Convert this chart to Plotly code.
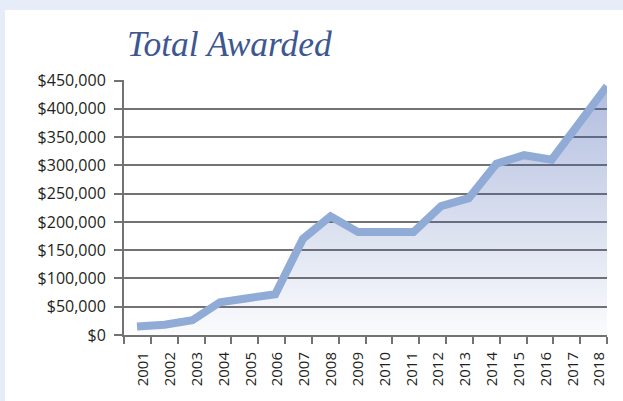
import plotly.graph_objects as go

years = [2001, 2002, 2003, 2004, 2005, 2006, 2007, 2008, 2009,
         2010, 2011, 2012, 2013, 2014, 2015, 2016, 2017, 2018]
awarded = [15000, 18000, 26000, 58000, 65000, 72000, 170000, 210000, 182000,
           182000, 182000, 228000, 242000, 303000, 318000, 310000, 374000, 440000]
year_labels = [str(y) for y in years]
y_ticks = [0, 50000, 100000, 150000, 200000, 250000, 300000, 350000, 400000, 450000]
y_labels = ["$0", "$50,000", "$100,000", "$150,000", "$200,000",
            "$250,000", "$300,000", "$350,000", "$400,000", "$450,000"]

W, H = 623, 401
grid_col = "#737373"

fig = go.Figure()
# invisible trace that anchors the labelled category axis
fig.add_trace(go.Scatter(
    x=years, y=awarded, xaxis="x", yaxis="y", mode="lines",
    line=dict(width=0, color="rgba(0,0,0,0)"), hoverinfo="skip", showlegend=False,
))
fig.add_trace(go.Scatter(
    x=years, y=awarded, xaxis="x2", yaxis="y",
    mode="lines",
    line=dict(color="#91abd7", width=8),
    fill="tozeroy",
    fillgradient=dict(
        type="vertical",
        start=0, stop=max(awarded),
        colorscale=[[0, "rgba(60,90,170,0.02)"], [1, "rgba(60,90,175,0.40)"]],
    ),
    hoverinfo="skip",
    showlegend=False,
))

fig.update_layout(
    width=W, height=H,
    margin=dict(l=124, r=16, t=80, b=66, autoexpand=False),
    paper_bgcolor="#e6edf8",
    plot_bgcolor="rgba(0,0,0,0)",
    font=dict(family="Open Sans", color="#231f20"),
    title=dict(
        text="<i>Total Awarded</i>",
        font=dict(family="Liberation Serif", size=35.5, color="#3d5791"),
        xref="container", yref="container",
        x=127 / W, xanchor="left",
        y=1 - 31 / H, yanchor="top",
        pad=dict(t=0, b=0, l=0, r=0),
    ),
    shapes=[dict(type="rect", xref="paper", yref="paper", layer="below",
                 x0=-(124 - 5) / 483, x1=1 + 20 / 483,
                 y0=-70 / 255, y1=1 + (80 - 10) / 255,
                 fillcolor="white", line=dict(width=0))],
    xaxis=dict(
        range=[2000.5, 2018.5],
        tickmode="array", tickvals=years, ticktext=year_labels,
        tickangle=-90, ticks="", ticklabelshift=6, ticklabelstandoff=9,
        tickfont=dict(size=15, family="Open Sans", color="#231f20"),
        minor=dict(tickmode="linear", tick0=2000.5, dtick=1, ticks="outside",
                   ticklen=7, tickwidth=2, tickcolor=grid_col, showgrid=False),
        showline=True, linecolor=grid_col, linewidth=2,
        showgrid=False, zeroline=False,
    ),
    xaxis2=dict(
        range=[2000.53, 2018.0], overlaying="x", anchor="y",
        visible=False, showgrid=False, zeroline=False,
    ),
    yaxis=dict(
        range=[0, 451000],
        tickmode="array", tickvals=y_ticks, ticktext=y_labels,
        ticks="outside", ticklen=8, tickwidth=2, tickcolor=grid_col,
        tickfont=dict(size=16, family="Open Sans", color="#231f20"),
        ticklabelstandoff=5,
        showline=True, linecolor=grid_col, linewidth=2,
        showgrid=True, gridcolor=grid_col, gridwidth=2,
        zeroline=False,
    ),
)

fig.write_html(
    "out.html",
    config={"displayModeBar": False},
    post_script="document.body.style.margin='0';document.body.style.padding='0';",
)
